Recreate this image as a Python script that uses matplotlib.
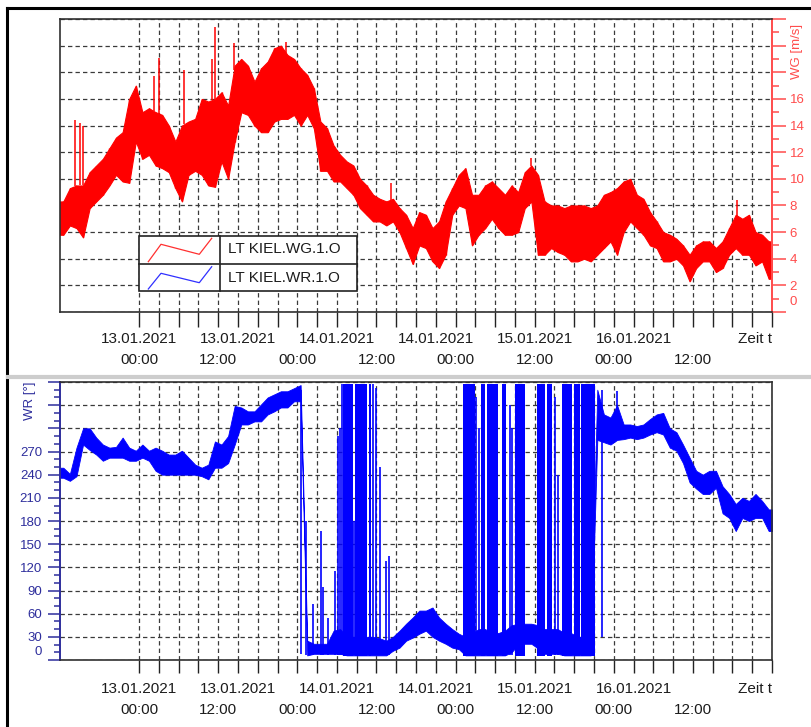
import matplotlib
matplotlib.use("Agg")
import numpy as np
import matplotlib.pyplot as plt
from matplotlib.lines import Line2D
from matplotlib.patches import Rectangle
from matplotlib.ticker import MultipleLocator, FixedLocator, NullFormatter, FuncFormatter

plt.rcParams['font.family'] = ['Liberation Sans', 'DejaVu Sans']

W, H = 811, 727

# x: hours since 12.01.2021 12:00, one reading bin per hour (0..107)
# wind speed LT KIEL.WG.1.O [m/s], min / max per hour
wg_lo = [5.8, 6.5, 6.3, 5.6, 7.8, 8.3, 8.8, 9.5, 10.3, 9.8,
         9.7, 12.8, 11.5, 11.8, 11.0, 10.8, 10.5, 9.3, 8.3, 10.3,
         10.6, 10.3, 9.5, 9.4, 11.3, 10.0, 12.8, 15.0, 14.8, 14.0,
         13.5, 13.5, 14.3, 14.5, 14.5, 14.8, 14.0, 14.8, 13.8, 10.6,
         10.6, 9.8, 9.8, 9.3, 8.8, 7.8, 7.3, 6.8, 6.8, 6.5,
         6.8, 6.0, 4.8, 3.6, 5.0, 4.8, 3.8, 3.3, 4.3, 7.3,
         8.0, 7.8, 5.0, 5.8, 6.3, 7.0, 6.3, 5.8, 5.8, 6.0,
         7.8, 8.3, 4.3, 4.3, 4.8, 4.5, 4.3, 3.8, 3.8, 4.0,
         3.8, 4.3, 4.8, 5.3, 4.3, 6.0, 6.8, 6.3, 5.8, 5.0,
         4.8, 3.8, 3.8, 4.0, 3.5, 2.3, 3.3, 3.8, 3.8, 3.0,
         3.3, 4.3, 4.8, 4.3, 4.3, 3.5, 3.8, 2.5]
wg_hi = [8.3, 9.3, 9.5, 9.5, 10.5, 11.0, 11.5, 12.3, 13.1, 13.5,
         16.0, 17.0, 15.0, 15.3, 15.0, 14.8, 14.0, 12.8, 14.0, 14.3,
         14.5, 16.0, 15.8, 16.0, 16.5, 15.5, 18.5, 19.0, 18.5, 17.3,
         18.3, 18.8, 19.8, 20.0, 19.3, 19.0, 18.3, 17.8, 16.8, 14.3,
         13.8, 12.5, 11.8, 11.3, 11.0, 10.0, 9.5, 8.8, 8.5, 8.3,
         8.5, 7.8, 7.3, 6.3, 7.5, 7.3, 6.3, 6.8, 8.3, 9.3,
         10.3, 10.8, 8.8, 8.8, 9.5, 9.8, 9.3, 8.8, 9.5, 9.0,
         10.5, 11.0, 10.3, 8.3, 8.0, 8.0, 7.8, 8.0, 8.0, 8.0,
         7.8, 8.0, 8.8, 9.0, 9.3, 9.8, 10.0, 8.8, 8.5, 7.5,
         6.8, 6.0, 5.8, 5.5, 5.0, 4.3, 5.0, 5.3, 5.3, 4.8,
         5.3, 6.3, 7.3, 7.0, 7.3, 6.0, 5.8, 5.3]
wg_spike_t = [2.2, 3.0, 3.5, 14.3, 15.0, 18.8, 23.1, 23.5, 26.4, 34.3, 50.2, 71.4, 102.7]
wg_spike_v = [14.4, 14.2, 14.0, 17.7, 19.1, 18.2, 19.0, 21.4, 20.2, 20.3, 9.7, 11.6, 8.4]

# wind direction LT KIEL.WR.1.O [deg], min / max per hour
wr_lo = [236, 232, 238, 279, 272, 266, 258, 262, 262, 262,
         258, 258, 262, 258, 245, 240, 240, 240, 240, 240,
         240, 238, 234, 249, 249, 255, 279, 305, 305, 309,
         309, 318, 322, 327, 327, 335, 335, 6, 8, 8,
         8, 8, 8, 6, 6, 6, 6, 6, 6, 6,
         12, 16, 25, 29, 34, 38, 30, 25, 21, 16,
         14, 6, 6, 6, 6, 6, 6, 6, 10, 20,
         21, 21, 15, 8, 8, 8, 6, 6, 6, 6,
         6, 285, 282, 279, 285, 286, 288, 286, 288, 292,
         295, 292, 275, 271, 255, 230, 222, 215, 215, 223,
         190, 184, 167, 184, 180, 184, 184, 167]
wr_hi = [249, 241, 275, 300, 300, 288, 279, 275, 276, 288,
         275, 271, 279, 271, 275, 271, 266, 266, 271, 262,
         253, 249, 253, 283, 279, 290, 329, 327, 322, 322,
         331, 340, 344, 348, 348, 352, 356, 25, 21, 21,
         21, 38, 40, 30, 30, 30, 30, 30, 28, 25,
         30, 38, 47, 55, 64, 64, 68, 55, 47, 40,
         34, 30, 35, 40, 40, 35, 35, 38, 45, 47,
         47, 47, 45, 40, 40, 40, 35, 35, 30, 30,
         30, 350, 318, 314, 330, 305, 305, 303, 305, 312,
         318, 320, 300, 295, 279, 262, 245, 240, 245, 245,
         225, 215, 202, 210, 206, 215, 206, 195]
# periods where the direction flips 0/360 so fast that the trace is solid
wr_block_start = [43.0, 44.8, 46.8, 61.1, 63.9, 64.7, 67.0, 69.0, 72.3, 73.8, 76.1, 78.0, 79.1]
wr_block_end = [44.4, 46.5, 47.2, 62.9, 64.4, 66.4, 67.7, 70.5, 73.5, 74.6, 77.6, 78.9, 81.2]
# single flips: time, low, high
wr_flip_t = [36.6, 37.3, 38.4, 39.6, 39.9, 40.6, 41.7, 42.2, 42.4, 42.8, 44.6, 47.5, 47.9, 48.5,
             49.5, 49.9, 63.1, 63.6, 68.2, 68.6, 75.1, 75.6, 82.2, 84.5]
wr_flip_lo = [8, 6, 6, 6, 6, 6, 6, 6, 6, 6, 6, 6, 6, 6,
              6, 6, 6, 6, 6, 6, 6, 6, 30, 285]
wr_flip_hi = [350, 180, 72, 167, 95, 55, 115, 290, 300, 358, 180, 358, 352, 250,
              128, 135, 340, 300, 330, 300, 340, 240, 350, 348]

hours = np.arange(len(wg_lo)) + 0.5
xtick_pos = np.arange(12, 109, 3)
date_pos = [12, 27, 42, 57, 72, 87]
date_txt = ['13.01.2021', '13.01.2021', '14.01.2021', '14.01.2021', '15.01.2021', '16.01.2021']
time_pos = [12, 24, 36, 48, 60, 72, 84, 96]
time_txt = ['00:00', '12:00', '00:00', '12:00', '00:00', '12:00', '00:00', '12:00']

RED, BLUE = '#ff0000', '#0000ff'
AX_RED = '#ff4c4c'
AX_BLUE = '#2e2e9c'
TXT = '#1c1c1c'
FRAME = '#303030'


def frac(x, y):
    return x / W, 1 - y / H


def edge_padded(lo, hi):
    # hold first / last reading out to the window edges
    t = np.r_[0, hours, 108]
    return t, np.r_[lo[0], lo, lo[-1]], np.r_[hi[0], hi, hi[-1]]


def time_axis(ax, ticklen, y_date, y_time):
    ax.set_xlim(0, 108)
    ax.xaxis.set_major_locator(FixedLocator(xtick_pos))
    ax.xaxis.set_major_formatter(NullFormatter())
    ax.tick_params(axis='x', direction='out', length=ticklen, width=1, color='#222222')
    ax.grid(True, color='#3a3a3a', linestyle=(0, (3.5, 2.5)), linewidth=0.9)
    ax.set_axisbelow(True)
    for s in ax.spines.values():
        s.set_color(FRAME)
        s.set_linewidth(1.2)
    tr = ax.get_xaxis_transform()
    for p, s in zip(date_pos, date_txt):
        ax.text(p, y_date, s, transform=tr, ha='center', va='center', fontsize=11, color=TXT)
    for p, s in zip(time_pos, time_txt):
        ax.text(p, y_time, s, transform=tr, ha='center', va='center', fontsize=11, color=TXT)
    ax.text(108, y_date, 'Zeit t', transform=tr, ha='right', va='center', fontsize=11, color=TXT)


fig = plt.figure(figsize=(W / 100, H / 100), dpi=100)
ax1 = fig.add_axes([60 / W, 1 - 312 / H, 712 / W, 293 / H])
ax2 = fig.add_axes([60 / W, 1 - 660 / H, 712 / W, 278 / H])

# ---- top: wind speed ----
t, lo, hi = edge_padded(wg_lo, wg_hi)
ax1.fill_between(t, lo, hi, color=RED, edgecolor=RED, linewidth=0.8)
ax1.vlines(hours, wg_lo, wg_hi, color=RED, linewidth=1.0)
spike_base = np.interp(wg_spike_t, hours, wg_hi)
ax1.vlines(wg_spike_t, spike_base, wg_spike_v, color=RED, linewidth=1.1)

ax1.set_ylim(0, 22)
ax1.yaxis.tick_right()
ax1.yaxis.set_major_locator(MultipleLocator(2))
ax1.yaxis.set_minor_locator(MultipleLocator(1))
ax1.yaxis.set_major_formatter(FuncFormatter(lambda v, p: '%d' % v if 2 <= v <= 16 else ''))
ax1.tick_params(axis='y', which='major', direction='out', length=10, width=1.1,
                colors=AX_RED, labelsize=9.5, pad=2.6)
ax1.tick_params(axis='y', which='minor', direction='out', length=5, width=1.1, colors=AX_RED)
time_axis(ax1, 10.5, -0.092, -0.164)
ax1.spines['right'].set_color(AX_RED)
ax1.spines['right'].set_linewidth(1.4)
ax1.annotate('0', xy=(1, 0.75), xycoords=('axes fraction', 'data'), xytext=(12.6, 0),
             textcoords='offset points', ha='left', va='center', fontsize=9.5, color=AX_RED)
fig.text(797 / W, 1 - 51 / H, 'WG [m/s]', rotation=90, ha='center', va='center',
         fontsize=9.5, color=AX_RED)

# ---- bottom: wind direction ----
t, lo, hi = edge_padded(wr_lo, wr_hi)
ax2.fill_between(t, lo, hi, color=BLUE, edgecolor=BLUE, linewidth=0.6)
for s, e in zip(wr_block_start, wr_block_end):
    ax2.fill_between([s, e], 5, 358, color=BLUE, linewidth=0)
ax2.vlines(wr_flip_t, wr_flip_lo, wr_flip_hi, color=BLUE, linewidth=1.2)

ax2.set_ylim(0, 360)
ax2.yaxis.set_major_locator(MultipleLocator(30))
ax2.yaxis.set_minor_locator(MultipleLocator(10))
ax2.yaxis.set_major_formatter(FuncFormatter(lambda v, p: '%d' % v if 30 <= v <= 270 else ''))
ax2.tick_params(axis='y', which='major', direction='out', length=8.6, width=1.1,
                colors=AX_BLUE, labelsize=9.5, pad=4.4)
ax2.tick_params(axis='y', which='minor', direction='out', length=4.3, width=1.1, colors=AX_BLUE)
time_axis(ax2, 9.5, -0.104, -0.18)
ax2.spines['left'].set_color(AX_BLUE)
ax2.spines['left'].set_linewidth(1.4)
ax2.annotate('0', xy=(0, 10), xycoords=('axes fraction', 'data'), xytext=(-13, 0),
             textcoords='offset points', ha='right', va='center', fontsize=9.5, color=AX_BLUE)
fig.text(30 / W, 1 - 401 / H, 'WR [°]', rotation=90, ha='center', va='center',
         fontsize=9.5, color=AX_BLUE)

# ---- legend box (drawn like the original instrument software) ----
bx0, by0 = frac(139, 291)
fig.add_artist(Rectangle((bx0, by0), 218 / W, 55 / H, transform=fig.transFigure,
                         facecolor='white', edgecolor='#222222', linewidth=1.2, zorder=5))
fig.add_artist(Line2D([139 / W, 357 / W], [1 - 263.5 / H] * 2, color='#222222', lw=1.2, zorder=6))
fig.add_artist(Line2D([220 / W, 220 / W], [1 - 236 / H, 1 - 291 / H], color='#222222', lw=1.2, zorder=6))
zig_x = np.array([148.3, 161, 199.3, 211.7]) / W
fig.add_artist(Line2D(zig_x, 1 - np.array([261.7, 244.3, 254.3, 238.3]) / H,
                      color='#ff3030', lw=0.9, zorder=6))
fig.add_artist(Line2D(zig_x, 1 - np.array([289, 273.3, 282.7, 266.7]) / H,
                      color='#3030ff', lw=0.9, zorder=6))
fig.text(227.5 / W, 1 - 249.5 / H, 'LT KIEL.WG.1.O', ha='left', va='center',
         fontsize=11, color=TXT, zorder=7)
fig.text(227.5 / W, 1 - 278 / H, 'LT KIEL.WR.1.O', ha='left', va='center',
         fontsize=11, color=TXT, zorder=7)

# ---- window frame ----
fig.add_artist(Line2D([7 / W, 1], [1 - 8 / H] * 2, color='black', lw=2.2))
fig.add_artist(Line2D([7 / W, 7 / W], [0, 1 - 8 / H], color='black', lw=2.2))
fig.add_artist(Line2D([8 / W, 1], [1 - 377 / H] * 2, color='#cdcdcd', lw=3))

fig.savefig('out.png', dpi=100)
